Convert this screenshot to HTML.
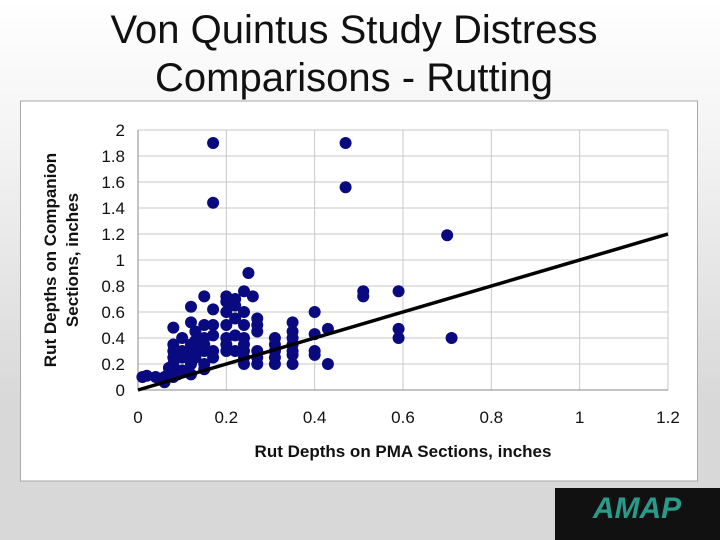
<!DOCTYPE html>
<html><head><meta charset="utf-8"><style>
body{margin:0;width:720px;height:540px;overflow:hidden;background:linear-gradient(#ffffff 0%,#f4f4f4 25%,#d8d8d8 75%,#d8d8d8 100%);font-family:"Liberation Sans",sans-serif;position:relative}
.title{position:absolute;left:0;width:708px;top:6px;text-align:center;font-size:40px;line-height:48px;color:#111}
</style></head><body>
<div class="title">Von Quintus Study Distress<br>Comparisons - Rutting</div>
<svg id="c" width="720" height="540" style="position:absolute;left:0;top:0">
<rect x="20.5" y="101" width="677" height="380" fill="#fff" stroke="#aaa"/>
<g id="grid"></g><g id="pts"></g><g id="lbl"></g>
<text x="403" y="457" text-anchor="middle" font-weight="bold" font-size="17" fill="#111">Rut Depths on PMA Sections, inches</text>
<text transform="translate(56,260) rotate(-90)" text-anchor="middle" font-weight="bold" font-size="17" fill="#111"><tspan x="0" dy="0">Rut Depths on Companion</tspan><tspan x="0" dy="22">Sections, inches</tspan></text>
<rect x="555" y="488" width="165" height="52" fill="#111"/>
<text x="637" y="518" text-anchor="middle" font-size="30" font-weight="bold" font-style="italic" fill="#2a9a8a">AMAP</text>
</svg>
<script>
const xTicks=[0,0.2,0.4,0.6,0.8,1,1.2];
const yTicks=[0,0.2,0.4,0.6,0.8,1,1.2,1.4,1.6,1.8,2];
const xVals=[0.17,0.47,0.47,0.17,0.70,0.25,0.51,0.51,0.59,0.59,0.59,0.71,0.43,0.43,0.40,0.40,0.40,0.40,
0.35,0.35,0.35,0.35,0.35,0.35,0.35,0.31,0.31,0.31,0.31,0.31,0.27,0.27,0.27,0.27,0.27,0.27,
0.24,0.24,0.24,0.24,0.24,0.24,0.24,0.24,0.22,0.22,0.22,0.22,0.22,0.26,0.20,0.20,0.20,0.20,0.20,0.20,0.20,
0.17,0.17,0.17,0.17,0.17,0.15,0.15,0.15,0.15,0.15,0.15,0.15,0.13,0.13,0.13,0.13,0.12,0.12,0.12,0.12,0.12,0.12,
0.10,0.10,0.10,0.10,0.08,0.08,0.08,0.08,0.08,0.08,0.08,0.07,0.07,0.06,0.06,0.04,0.02,0.01,0.09];
const yVals=[1.9,1.9,1.56,1.44,1.19,0.9,0.76,0.72,0.76,0.47,0.4,0.4,0.47,0.2,0.6,0.43,0.3,0.27,
0.52,0.45,0.4,0.35,0.3,0.27,0.2,0.4,0.35,0.3,0.25,0.2,0.55,0.5,0.45,0.3,0.25,0.2,
0.76,0.6,0.5,0.4,0.35,0.3,0.25,0.2,0.7,0.65,0.55,0.42,0.3,0.72,0.72,0.68,0.6,0.5,0.4,0.35,0.3,
0.62,0.5,0.42,0.3,0.25,0.72,0.5,0.4,0.35,0.3,0.2,0.16,0.45,0.38,0.3,0.25,0.64,0.52,0.35,0.28,0.2,0.12,
0.4,0.3,0.25,0.15,0.48,0.35,0.3,0.25,0.2,0.15,0.1,0.17,0.13,0.1,0.06,0.1,0.11,0.1,0.12];
const fitX=[0,1.2], fitY=[0,1.2];
const X=v=>138+v*(530/1.2), Y=v=>390-v*130;
const NS='http://www.w3.org/2000/svg';
function mk(t,a,p){const e=document.createElementNS(NS,t);for(const k in a)e.setAttribute(k,a[k]);p.appendChild(e);return e;}
const g=document.getElementById('grid'),l=document.getElementById('lbl'),p=document.getElementById('pts');
yTicks.forEach(v=>{const e=mk('line',{x1:X(0),x2:X(1.2),y1:Y(v),y2:Y(v),stroke:'#c8c8c8'},g);


const t=mk('text',{x:125,y:Y(v)+6,'text-anchor':'end','font-size':17,fill:'#111'},l);t.textContent=String(v);

});
xTicks.forEach(v=>{const e=mk('line',{x1:X(v),x2:X(v),y1:Y(0),y2:Y(2),stroke:'#c8c8c8'},g);


const t=mk('text',{x:X(v),y:423,'text-anchor':'middle','font-size':17,fill:'#111'},l);t.textContent=String(v);

});
mk('line',{x1:X(0),x2:X(0),y1:Y(0),y2:Y(2),stroke:'#888'},g);
mk('line',{x1:X(0),x2:X(1.2),y1:Y(0),y2:Y(0),stroke:'#888'},g);
xVals.forEach((v,i)=>{const c=mk('circle',{cx:X(v),cy:Y(yVals[i]),r:6,fill:'#0a0a80'},p);

});
const ln=mk('line',{x1:X(fitX[0]),y1:Y(fitY[0]),x2:X(fitX[1]),y2:Y(fitY[1]),stroke:'#000','stroke-width':3.5},p);


</script>
</body></html>
